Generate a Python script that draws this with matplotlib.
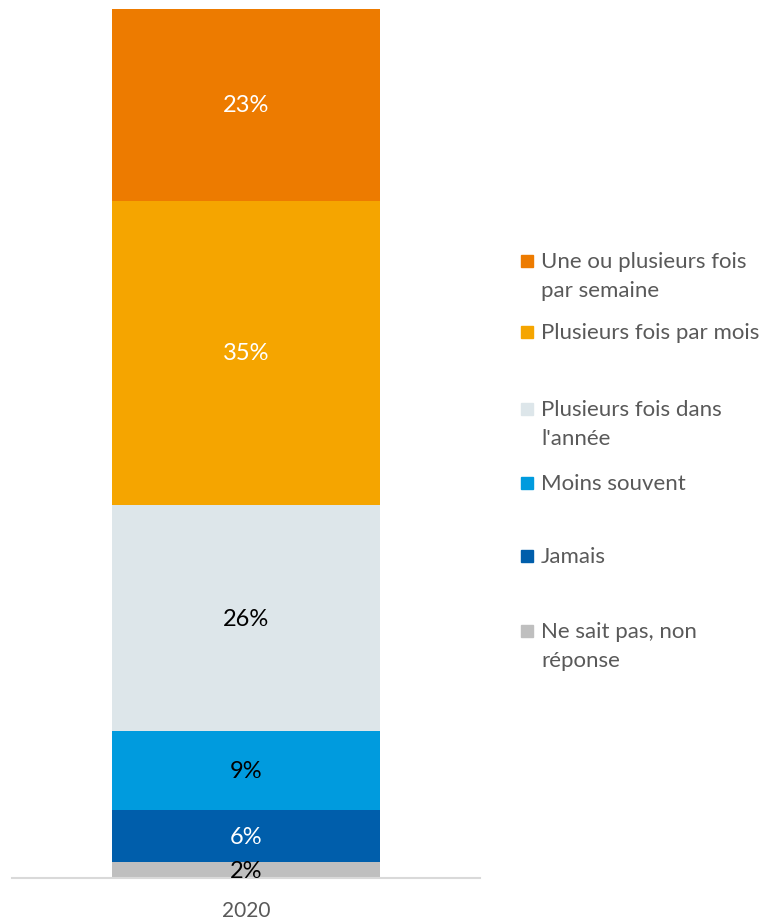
import matplotlib.pyplot as plt
from matplotlib.patches import Rectangle

plt.rcParams['font.family'] = ['Lato', 'DejaVu Sans']

# data, bottom to top (segment sizes, labels as printed)
year = '2020'
categories = ['Ne sait pas, non\nréponse', 'Jamais', 'Moins souvent',
              "Plusieurs fois dans\nl'année", 'Plusieurs fois par mois',
              'Une ou plusieurs fois\npar semaine']
values = [1.84, 5.95, 9.09, 26.05, 35.0, 22.07]
labels = ['2%', '6%', '9%', '26%', '35%', '23%']
colors = ['#BFBFBF', '#005EAB', '#009BDE', '#DDE6EA', '#F5A500', '#ED7B00']
label_colors = ['black', 'white', 'black', 'black', 'white', 'white']

W, H = 761, 920
fig = plt.figure(figsize=(W / 100, H / 100), dpi=100)
ax = fig.add_axes([12 / W, 1 - 879 / H, 468 / W, 869 / H])

bottom = 0
for v, lab, c, lc in zip(values, labels, colors, label_colors):
    ax.bar(0, v, width=0.573, bottom=bottom, color=c, linewidth=0)
    ax.text(0, bottom + v / 2, lab, ha='center', va='center',
            color=lc, fontsize=17)
    bottom += v

ax.set_xlim(-0.5, 0.5)
ax.set_ylim(0, bottom)
ax.set_xticks([0])
ax.set_xticklabels([year], fontsize=15, color='#595959')
ax.tick_params(axis='x', length=0, pad=16)
ax.set_yticks([])
for s in ['top', 'right', 'left']:
    ax.spines[s].set_visible(False)
ax.spines['bottom'].set_color('#D9D9D9')
ax.spines['bottom'].set_linewidth(1.5)

# legend, top to bottom
leg_y = [262, 333, 410, 484, 557, 632]
for name, c, y in zip(categories[::-1], colors[::-1], leg_y):
    fig.patches.append(Rectangle((521 / W, 1 - (y + 6) / H), 12 / W, 12 / H,
                                 transform=fig.transFigure, color=c))
    for i, line in enumerate(name.split('\n')):
        fig.text(541 / W, 1 - (y + 29 * i) / H, line, ha='left',
                 va='center', fontsize=16, color='#595959')

fig.savefig('out.png', dpi=100)
